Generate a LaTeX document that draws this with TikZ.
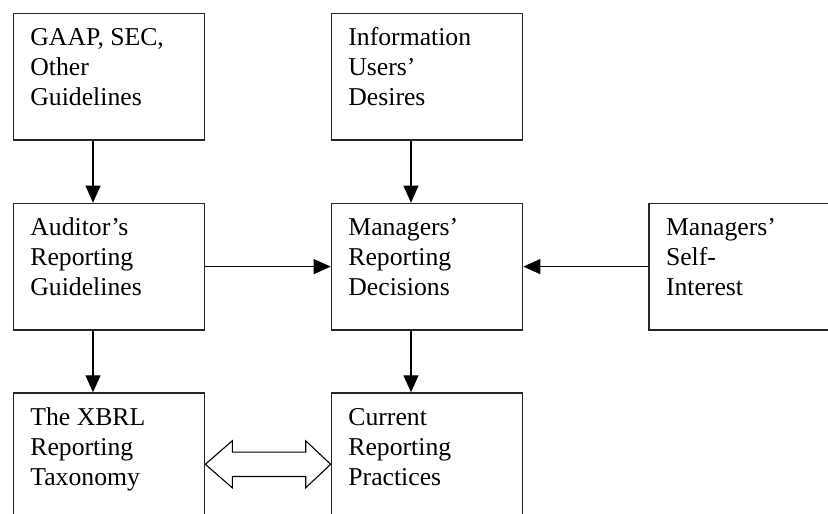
\documentclass[tikz,border=0pt]{standalone}
\usepackage{fontspec}
\setmainfont{Liberation Serif}
\usetikzlibrary{arrows.meta,calc}
\begin{document}
\begin{tikzpicture}[x=1pt,y=-1pt,
  boxnode/.style={draw=black!85,line width=1.3pt,minimum width=191.3pt,minimum height=126.5pt,inner sep=0pt,anchor=north west},
  txt/.style={anchor=north west,inner sep=0pt,align=left,font=\fontsize{25.7}{30}\selectfont},
  arr/.style={-{Triangle[length=17pt,width=15pt]},line width=1.2pt,black}]
\useasboundingbox (0,0) rectangle (828,514);
\clip (0,0) rectangle (828,514);
\node[boxnode] (A) at (12.7,12.7) {};
\node[boxnode] (B) at (330.7,12.7) {};
\node[boxnode] (C) at (12.7,202.7) {};
\node[boxnode] (D) at (330.7,202.7) {};
\node[boxnode] (E) at (648.3,202.7) {};
\node[boxnode] (F) at (12.7,392.3) {};
\node[boxnode] (G) at (330.7,392.3) {};
\node[txt] (tA) at ($(A.north west)+(17.5,13)$) {\rule{0pt}{20pt}GAAP, SEC,\\Other\\Guidelines};
\node[txt] (tB) at ($(B.north west)+(17.5,13)$) {\rule{0pt}{20pt}Information\\Users’\\Desires};
\node[txt] (tC) at ($(C.north west)+(17.5,13)$) {\rule{0pt}{20pt}Auditor’s\\Reporting\\Guidelines};
\node[txt] (tD) at ($(D.north west)+(17.5,13)$) {\rule{0pt}{20pt}Managers’\\Reporting\\Decisions};
\node[txt] (tE) at ($(E.north west)+(17.5,13)$) {\rule{0pt}{20pt}Managers’\\Self-\\Interest};
\node[txt] (tF) at ($(F.north west)+(17.5,13)$) {\rule{0pt}{20pt}The XBRL\\Reporting\\Taxonomy};
\node[txt] (tG) at ($(G.north west)+(17.5,13)$) {\rule{0pt}{20pt}Current\\Reporting\\Practices};
\draw[arr] ([xshift=-16pt]A.south) -- ([xshift=-16pt]C.north);
\draw[arr] ([xshift=-16pt]B.south) -- ([xshift=-16pt]D.north);
\draw[arr] ([xshift=-16pt]C.south) -- ([xshift=-16pt]F.north);
\draw[arr] ([xshift=-16pt]D.south) -- ([xshift=-16pt]G.north);
\draw[arr] (C.east) -- (D.west);
\draw[arr] (E.west) -- (D.east);
\coordinate (L) at ([yshift=-72pt]F.north east);
\coordinate (R) at ([yshift=-72pt]G.north west);
\draw[line width=1.1pt,fill=white] (L) -- ++(27,-23.5) -- ++(0,11.3) -- ($(R)+(-25,-12.2)$) -- ++(0,-11.3) -- (R) -- ++(-25,23.5) -- ++(0,-11.3) -- ($(L)+(27,12.2)$) -- ++(0,11.3) -- cycle;
\end{tikzpicture}
\end{document}
